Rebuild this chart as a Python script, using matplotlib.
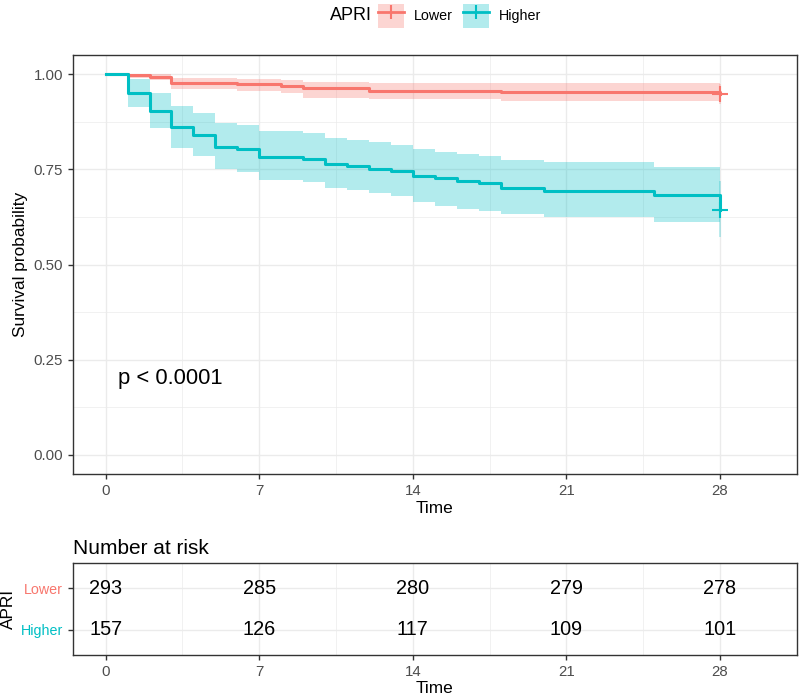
import numpy as np
import matplotlib
matplotlib.use('Agg')
import matplotlib.pyplot as plt
from matplotlib.patches import Patch
from matplotlib.lines import Line2D
from matplotlib.legend_handler import HandlerTuple

plt.rcParams['font.family'] = ['Liberation Sans', 'DejaVu Sans']

red = '#F8766D'
teal = '#00BFC4'
grey30 = '#4D4D4D'
grid = '#EBEBEB'

# Kaplan-Meier curves
lower_time = [0, 1, 2, 3, 6, 8, 9, 12, 18, 28]
lower_surv = [1.0, 0.9966, 0.9932, 0.9761, 0.9727, 0.9693, 0.9625, 0.9556, 0.9522, 0.9488]
lower_upper = [1.0, 1.0, 0.999, 0.990, 0.987, 0.984, 0.980, 0.977, 0.976, 0.975]
lower_lower = [1.0, 0.990, 0.984, 0.960, 0.955, 0.951, 0.938, 0.934, 0.929, 0.922]

higher_time = [0, 1, 2, 3, 4, 5, 6, 7, 9, 10, 11, 12, 13, 14, 15, 16, 17, 18, 20, 25, 28]
higher_surv = [1.0, 0.949, 0.904, 0.860, 0.841, 0.809, 0.803, 0.783, 0.777, 0.764, 0.758,
               0.752, 0.745, 0.732, 0.726, 0.720, 0.713, 0.701, 0.694, 0.682, 0.643]
higher_upper = [1.0, 0.987, 0.951, 0.916, 0.899, 0.871, 0.866, 0.850, 0.844, 0.833, 0.827,
                0.821, 0.815, 0.803, 0.796, 0.790, 0.786, 0.774, 0.768, 0.757, 0.720]
higher_lower = [1.0, 0.914, 0.859, 0.805, 0.786, 0.751, 0.744, 0.722, 0.717, 0.702, 0.696,
                0.687, 0.680, 0.665, 0.654, 0.647, 0.641, 0.632, 0.625, 0.612, 0.573]

# number at risk table
risk_times = [0, 7, 14, 21, 28]
risk_lower = [293, 285, 280, 279, 278]
risk_higher = [157, 126, 117, 109, 101]

groups = [('Lower', red, lower_time, lower_surv, lower_upper, lower_lower),
          ('Higher', teal, higher_time, higher_surv, higher_upper, higher_lower)]

fig = plt.figure(figsize=(8, 6.97), dpi=100)
ax = fig.add_axes([0.0909, 0.3199, 0.9050, 0.6012])
rt = fig.add_axes([0.0909, 0.0603, 0.9050, 0.1315])

def style(a):
    for s in a.spines.values():
        s.set_color('#333333')
        s.set_linewidth(1.0)
    a.set_axisbelow(True)
    a.tick_params(length=3.5, width=1.0, color='#333333', labelcolor=grey30, labelsize=10.8)
    a.set_xlim(-1.5, 31.5)
    a.set_xticks(risk_times)
    a.set_xticks([3.5, 10.5, 17.5, 24.5, 31.5], minor=True)
    a.tick_params(which='minor', length=0)
    a.grid(True, which='major', color=grid, lw=1.0)
    a.grid(True, which='minor', color=grid, lw=0.5)

style(ax)
for name, c, t, s, up, lo in groups:
    ax.fill_between(t, lo, up, step='post', color=c, alpha=0.3, lw=0)
    ax.vlines(t[-1], lo[-1], up[-1], color=c, alpha=0.3, lw=1.2)
    ax.step(t, s, where='post', color=c, lw=2.2)
    ax.plot(t[-1], s[-1], marker='+', color=c, ms=11, mew=1.5)

ax.set_ylim(-0.05, 1.05)
ax.set_yticks([0, 0.25, 0.5, 0.75, 1.0])
ax.set_yticklabels(['0.00', '0.25', '0.50', '0.75', '1.00'])
ax.set_yticks([0.125, 0.375, 0.625, 0.875], minor=True)
ax.set_xlabel('Time', fontsize=12.4, labelpad=2.5)
ax.set_ylabel('Survival probability', fontsize=12.4, labelpad=4)
ax.text(0.55, 0.2, 'p < 0.0001', fontsize=15.8, ha='left', va='center')

# risk table
style(rt)
rt.set_ylim(0.4, 2.6)
rt.set_yticks([2, 1])
rt.set_yticklabels(['Lower', 'Higher'])
for lab, c in zip(rt.get_yticklabels(), [red, teal]):
    lab.set_color(c)
    lab.set_fontsize(10.3)
for x, a, b in zip(risk_times, risk_lower, risk_higher):
    rt.text(x, 2, str(a), ha='center', va='center', fontsize=14.3)
    rt.text(x, 1, str(b), ha='center', va='center', fontsize=14.3)
rt.set_xlabel('Time', fontsize=12.4, labelpad=1.5)
rt.set_ylabel('APRI', fontsize=12.4, labelpad=3)
rt.set_title('Number at risk', loc='left', fontsize=15, pad=7)

# legend on top
fig.text(330 / 800, 1 - 16 / 697, 'APRI', fontsize=13, ha='left', va='center')
handles = [(Patch(facecolor=c, alpha=0.3, lw=0),
            Line2D([], [], color=c, lw=2, marker='|', ms=10, mew=1.5)) for _, c, *r in groups]
fig.legend(handles, ['Lower', 'Higher'], ncol=2, frameon=False, fontsize=10.3,
           loc='center left', bbox_to_anchor=(378 / 800, 1 - 16 / 697),
           handler_map={tuple: HandlerTuple(ndivide=1, pad=0)},
           handlelength=1.8, handleheight=2.3, handletextpad=0.7, columnspacing=0.7,
           borderpad=0, borderaxespad=0)

fig.savefig('out.png', dpi=100)
